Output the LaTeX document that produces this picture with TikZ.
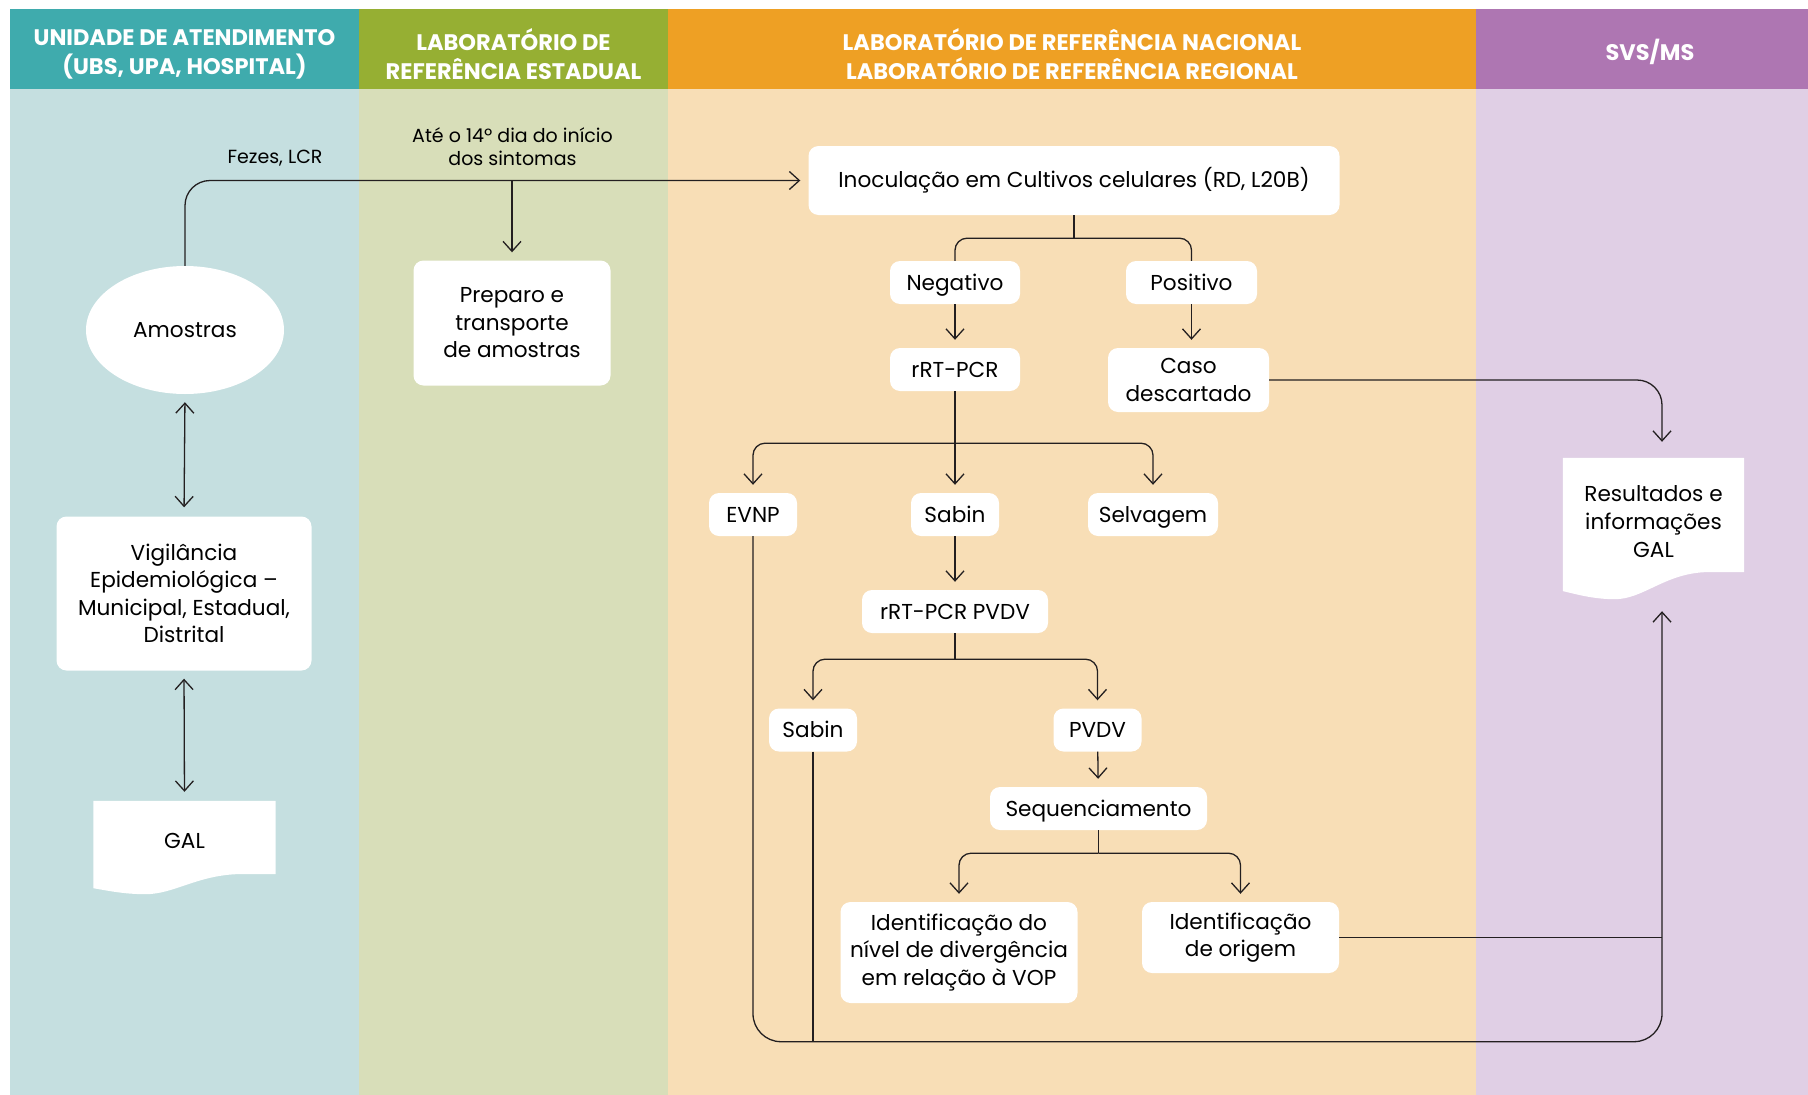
\documentclass[tikz,border=0pt]{standalone}
\usepackage{fontspec}
\setmainfont{Poppins}
\usetikzlibrary{arrows.meta,positioning,shapes.geometric,backgrounds,calc}

\definecolor{tealhead}{HTML}{3FABAD}
\definecolor{tealbody}{HTML}{C5DFE0}
\definecolor{greenhead}{HTML}{96AF33}
\definecolor{greenbody}{HTML}{D8DEB9}
\definecolor{orangehead}{HTML}{EEA024}
\definecolor{orangebody}{HTML}{F8DEB6}
\definecolor{purplehead}{HTML}{AE76B2}
\definecolor{purplebody}{HTML}{E0CFE5}
\definecolor{ink}{HTML}{231F20}

% sheet of paper with a wavy lower edge, drawn behind a node
% #1 node, #2 lift of the straight edge above the node's south, #3 depth of the wave
\newcommand{\paperdoc}[3]{%
  \fill[white] (#1.north west) -- (#1.north east) -- ([yshift=#2]#1.south east)
    -- ([xshift=-40pt,yshift=#2]#1.south east)
    .. controls ([xshift=-80pt,yshift=#2-2pt]#1.south east) and ([xshift=80pt,yshift=#2-#3]#1.south west)
    .. ([xshift=52pt,yshift=#2-#3]#1.south west)
    .. controls ([xshift=30pt,yshift=#2-#3]#1.south west) and ([xshift=12pt,yshift=#2-0.8*#3]#1.south west)
    .. ([yshift=#2-0.7*#3]#1.south west) -- cycle;}

\begin{document}
\begin{tikzpicture}[x=1pt,y=1pt,
  header/.style={text=white,align=center,font=\fontsize{22.5}{29}\selectfont\bfseries},
  box/.style={fill=white,rounded corners=10pt,align=center,inner sep=0pt,font=\fontsize{21.6}{27.5}\selectfont},
  tag/.style={box,minimum height=43pt,text height=20pt,text depth=5pt},
  paper/.style={align=center,inner sep=0pt,font=\fontsize{21.6}{28}\selectfont},
  note/.style={align=center,inner sep=0pt,font=\fontsize{19}{23}\selectfont},
  line/.style={draw=ink,line width=1.3pt},
  flow/.style={line,-{Straight Barb[length=10pt,width=18pt]},shorten >=8pt},
  both/.style={line,{Straight Barb[length=10pt,width=18pt]}-{Straight Barb[length=10pt,width=18pt]},shorten <=8pt,shorten >=9pt}]

\useasboundingbox (0,0) rectangle (1808,-1095);

% lanes
\begin{scope}[on background layer]
\fill[white] (0,0) rectangle (1808,-1095);
\foreach \xa/\xb/\hc/\bc in {10/359/tealhead/tealbody,359/668/greenhead/greenbody,
    668/1476/orangehead/orangebody,1476/1808/purplehead/purplebody}{
  \fill[\bc] (\xa,-88.7) rectangle (\xb,-1095);
  \fill[\hc] (\xa,-9) rectangle (\xb,-88.7);
}
\end{scope}

\node[header] (h1) at (184.5,-54.5) {UNIDADE DE ATENDIMENTO\\(UBS, UPA, HOSPITAL)};
\node[header] (h2) at (513.5,-54.5) {LABORATÓRIO DE\\REFERÊNCIA ESTADUAL};
\node[header] (h3) at (1072,-54.5) {LABORATÓRIO DE REFERÊNCIA NACIONAL\\LABORATÓRIO DE REFERÊNCIA REGIONAL};
\node[header] (h4) at (1650,-52) {SVS/MS};

% first lane
\node[ellipse,fill=white,minimum width=198pt,minimum height=128pt,inner sep=0pt,
  font=\fontsize{21.6}{27}\selectfont] (amostras) at (185,-330) {Amostras};
\node[box,minimum width=255pt,minimum height=154pt] (vigil) at (184,-593.5)
  {Vigilância\\Epidemiológica –\\Municipal, Estadual,\\Distrital};
\node[paper,minimum width=182pt,minimum height=80pt] (gal) at (184.5,-841) {GAL};

% second lane
\node[box,minimum width=197pt,minimum height=125pt] (preparo) at (512,-323)
  {Preparo e\\transporte\\de amostras};
\node[note] (fezes) at (275,-158) {Fezes, LCR};
\node[note] (prazo) at (512.5,-146.5) {Até o 14º dia do início\\dos sintomas};

% third lane
\node[box,minimum width=531pt,minimum height=69pt] (inoc) at (1074,-180.5)
  {Inoculação em Cultivos celulares (RD, L20B)};
\node[tag,minimum width=130pt] (neg) at (955,-282.5) {Negativo};
\node[tag,minimum width=131pt] (pos) at (1191.5,-282.5) {Positivo};
\node[tag,minimum width=130pt] (rrt) at (955,-369.5) {rRT-PCR};
\node[box,minimum width=161pt,minimum height=64pt] (caso) at (1188.5,-380) {Caso\\descartado};
\node[tag,minimum width=88pt] (evnp) at (753,-514.5) {EVNP};
\node[tag,minimum width=88pt] (sabin) at (955,-514.5) {Sabin};
\node[tag,minimum width=130pt] (selv) at (1153,-514.5) {Selvagem};
\node[tag,minimum width=186pt] (pvdvpcr) at (955,-611.5) {rRT-PCR PVDV};
\node[tag,minimum width=88pt] (sabinb) at (813,-730) {Sabin};
\node[tag,minimum width=88pt] (pvdv) at (1097.5,-730) {PVDV};
\node[tag,minimum width=217pt] (seq) at (1098.5,-808.5) {Sequenciamento};
\node[box,minimum width=237pt,minimum height=101pt] (nivel) at (959,-952.5)
  {Identificação do\\nível de divergência\\em relação à VOP};
\node[box,minimum width=197pt,minimum height=71pt] (origem) at (1240.5,-937.5)
  {Identificação\\de origem};

% fourth lane
\node[paper,minimum width=181pt,minimum height=128pt] (res) at (1653.5,-522)
  {Resultados e\\informações\\GAL};

\begin{scope}[on background layer]
\paperdoc{gal}{7pt}{20pt}
\paperdoc{res}{14pt}{27pt}
\end{scope}

% helper points
\coordinate[below=23pt of inoc.south] (fork1);
\coordinate[below=52pt of rrt.south] (fork2);
\coordinate[below=26pt of pvdvpcr.south] (fork3);
\coordinate[below=23pt of seq.south] (fork4);
\coordinate (resin) at ([xshift=8.5pt]res.north);
\coordinate (resout) at ($(res.south)+(8.5,-17)$);
\coordinate (bot) at (753,-1041.7);

% connectors
\draw[flow,rounded corners=25pt] (amostras.north) |- (inoc.west);
\draw[flow] (preparo.north |- inoc.west) -- (preparo.north);
\draw[both] (amostras.south) -- (vigil.north);
\draw[both] (vigil.south) -- (gal.north);

\draw[line] (inoc.south) -- (fork1);
\draw[line,rounded corners=12pt] (neg.north) |- (fork1) -| (pos.north);
\draw[flow] (neg) -- (rrt);
\draw[flow] (pos.south) -- (pos.south |- caso.north);
\draw[flow,rounded corners=25pt,shorten >=16pt] (caso.east) -| (resin);

\draw[flow] (rrt) -- (sabin);
\draw[flow,rounded corners=12pt] (fork2) -| (evnp.north);
\draw[flow,rounded corners=12pt] (fork2) -| (selv.north);
\draw[flow] (sabin) -- (pvdvpcr);

\draw[line] (pvdvpcr.south) -- (fork3);
\draw[flow,rounded corners=12pt] (fork3) -| (sabinb.north);
\draw[flow,rounded corners=12pt] (fork3) -| (pvdv.north);
\draw[flow] (pvdv) -- (seq);

\draw[line] (seq.south) -- (fork4);
\draw[flow,rounded corners=12pt] (fork4) -| (nivel.north);
\draw[flow,rounded corners=12pt] (fork4) -| (origem.north);

\draw[flow,rounded corners=28pt] (evnp.south) |- (bot -| resout) -- (resout);
\draw[line] (sabinb.south) -- (sabinb.south |- bot);
\draw[line] (origem.east) -- (origem.east -| resout);
\end{tikzpicture}
\end{document}
